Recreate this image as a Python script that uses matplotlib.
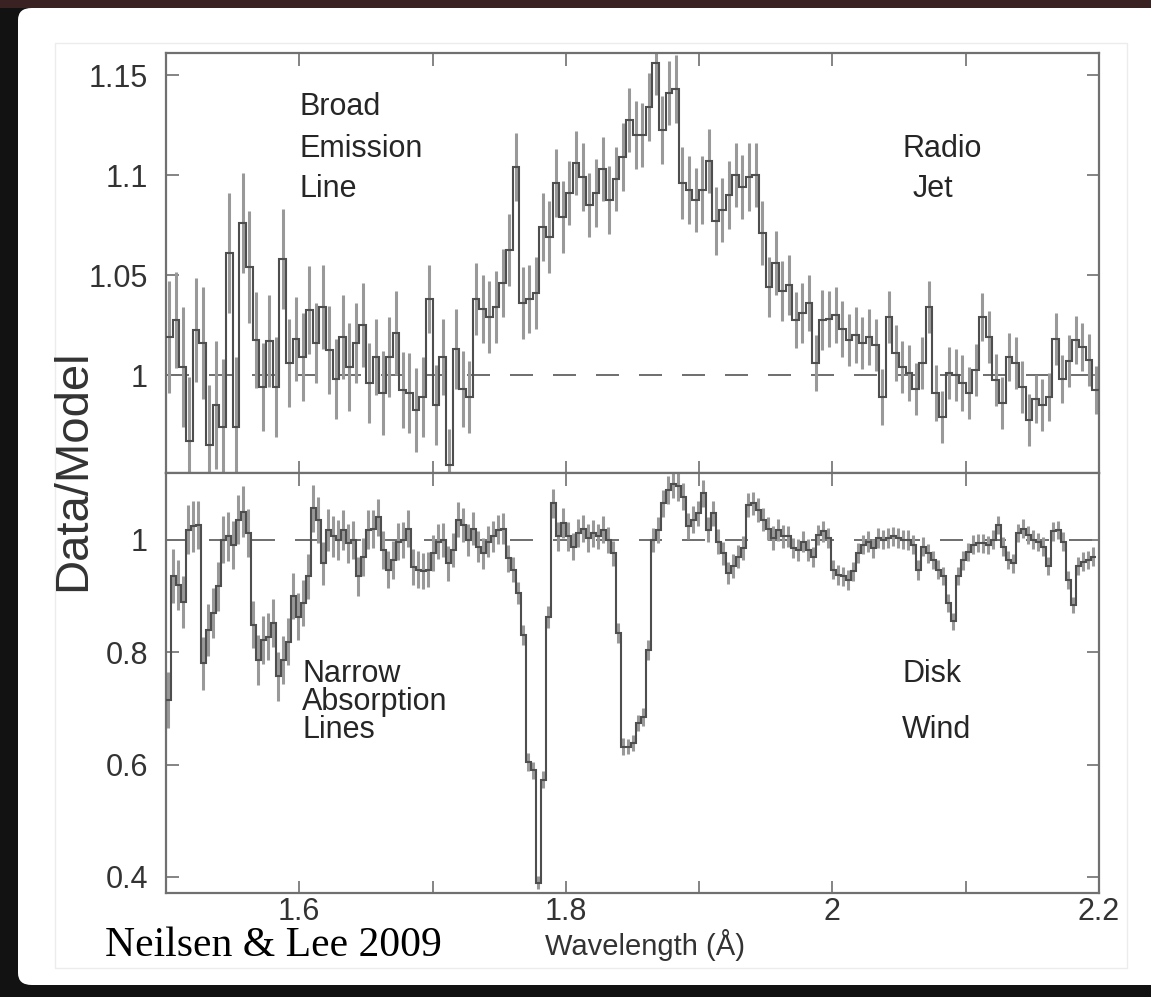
import numpy as np
import matplotlib.pyplot as plt
from matplotlib.patches import FancyBboxPatch, Rectangle

# upper panel: broad-band ratio, 0.005 A bins starting at 1.5 A
upper_ratio = [
    1.019, 1.0275, 1.004, 0.967, 1.0225, 1.016, 0.965, 0.985, 0.974, 1.061,
    0.974, 1.076, 1.054, 1.0175, 0.994, 1.017, 0.994, 1.058, 1.006, 1.018,
    1.009, 1.0325, 1.016, 1.034, 1.0125, 0.998, 1.019, 1.004, 1.016, 1.025,
    0.996, 1.009, 0.991, 1.009, 1.021, 0.9925, 0.991, 0.9825, 0.989, 1.038,
    0.985, 1.009, 0.955, 1.013, 0.993, 0.989, 1.038, 1.033, 1.029, 1.034,
    1.046, 1.0625, 1.104, 1.036, 1.038, 1.041, 1.074, 1.069, 1.096, 1.079,
    1.091, 1.106, 1.099, 1.085, 1.091, 1.103, 1.0875, 1.098, 1.109, 1.1275,
    1.12, 1.12, 1.134, 1.156, 1.1225, 1.141, 1.143, 1.096, 1.0925, 1.0875,
    1.0925, 1.107, 1.077, 1.0825, 1.09, 1.1, 1.094, 1.099, 1.1, 1.071,
    1.044, 1.056, 1.042, 1.045, 1.0275, 1.031, 1.036, 1.006, 1.0275, 1.028,
    1.03, 1.023, 1.0175, 1.02, 1.016, 1.019, 1.015, 0.989, 1.029, 1.011,
    1.004, 1.001, 0.993, 1.006, 1.034, 0.991, 0.979, 1.001, 1.0, 0.996,
    0.991, 1.0025, 1.029, 1.019, 0.9975, 0.986, 1.009, 1.006, 0.994, 0.9775,
    0.988, 0.985, 0.989, 1.018, 0.998, 1.007, 1.0175, 1.014, 1.0075, 0.9925,
]
upper_err = [
    0.028, 0.024, 0.030, 0.032, 0.026, 0.028, 0.030, 0.032, 0.034, 0.030,
    0.035, 0.025, 0.028, 0.024, 0.022, 0.023, 0.025, 0.025, 0.022, 0.021,
    0.022, 0.022, 0.020, 0.021, 0.022, 0.020, 0.021, 0.022, 0.020, 0.021,
    0.020, 0.019, 0.021, 0.020, 0.021, 0.019, 0.020, 0.021, 0.020, 0.017,
    0.020, 0.019, 0.018, 0.020, 0.019, 0.018, 0.018, 0.017, 0.018, 0.018,
    0.017, 0.018, 0.017, 0.018, 0.017, 0.018, 0.017, 0.018, 0.017, 0.018,
    0.016, 0.016, 0.017, 0.016, 0.017, 0.016, 0.017, 0.016, 0.017, 0.016,
    0.017, 0.016, 0.017, 0.016, 0.017, 0.016, 0.017, 0.018, 0.017, 0.016,
    0.017, 0.016, 0.017, 0.016, 0.017, 0.016, 0.016, 0.017, 0.016, 0.016,
    0.015, 0.016, 0.015, 0.015, 0.014, 0.015, 0.014, 0.014, 0.015, 0.014,
    0.014, 0.014, 0.013, 0.014, 0.013, 0.014, 0.013, 0.014, 0.013, 0.014,
    0.013, 0.014, 0.013, 0.013, 0.013, 0.014, 0.013, 0.013, 0.013, 0.014,
    0.013, 0.013, 0.012, 0.013, 0.013, 0.013, 0.012, 0.013, 0.013, 0.013,
    0.012, 0.013, 0.012, 0.013, 0.012, 0.013, 0.012, 0.012, 0.013, 0.012,
]

# lower panel: line-region ratio, 0.00375 A bins starting at 1.5 A
lower_ratio = [
    0.715, 0.935, 0.92, 0.89, 1.018, 1.024, 1.027, 0.78, 0.84, 0.87,
    0.917, 1.0, 1.006, 0.991, 1.036, 1.05, 1.012, 0.849, 0.786, 0.822,
    0.828, 0.852, 0.757, 0.786, 0.819, 0.9, 0.863, 0.887, 0.935, 1.056,
    1.036, 0.958, 1.018, 1.006, 1.0, 1.018, 0.994, 1.0, 0.935, 0.97,
    1.018, 1.02, 1.04, 0.982, 0.947, 0.964, 0.997, 1.0, 1.02, 0.952,
    0.947, 0.944, 0.947, 0.976, 0.997, 1.0, 0.958, 0.982, 1.036, 1.027,
    1.0, 1.02,
    0.988, 0.976, 0.997, 1.006, 1.018, 1.02, 0.967, 0.947, 0.905, 0.831,
    0.605, 0.59, 0.39, 0.573, 0.863, 1.065, 1.006, 1.03, 1.006, 0.988,
    1.012, 1.02, 1.003, 1.012, 1.006, 1.018, 1.0, 0.976, 0.834, 0.632,
    0.632, 0.638, 0.674, 0.685, 0.804, 1.0, 1.018, 1.065, 1.089, 1.1,
    1.095, 1.077, 1.024, 1.036, 1.047, 1.083, 1.018, 1.047, 0.997, 0.976,
    0.941, 0.953, 0.97, 0.985, 1.062, 1.065, 1.053, 1.036, 1.02, 1.003,
    1.018, 1.006,
    1.006, 0.985, 0.982, 0.997, 0.982, 0.97, 1.009, 1.015, 1.003, 0.947,
    0.938, 0.935, 0.929, 0.944, 0.976, 0.991, 0.997, 0.985, 1.003, 1.0,
    1.003, 1.006, 1.003, 1.0, 1.0, 0.991, 0.947, 0.988, 0.976, 0.964,
    0.947, 0.935, 0.887, 0.855, 0.935, 0.964, 0.979, 0.991, 0.994, 0.994,
    0.991, 1.0, 1.027, 0.988, 0.964, 0.958, 1.012, 1.02, 1.009, 1.0,
    0.997, 0.988, 0.953, 1.015, 1.018, 0.997, 0.929, 0.884, 0.953, 0.961,
    0.964, 0.97,
]
lower_err = [
    0.050, 0.048, 0.045, 0.046, 0.044, 0.045, 0.043, 0.047, 0.046, 0.045,
    0.044, 0.042, 0.043, 0.042, 0.044, 0.045, 0.043, 0.042, 0.044, 0.043,
    0.042, 0.043, 0.044, 0.043, 0.042, 0.041, 0.042, 0.041, 0.040, 0.042,
    0.041, 0.038, 0.037, 0.036, 0.035, 0.036, 0.035, 0.034, 0.035, 0.034,
    0.035, 0.034, 0.033, 0.034, 0.033, 0.034, 0.033, 0.032, 0.033, 0.032,
    0.033, 0.032, 0.031, 0.032, 0.031, 0.030, 0.031, 0.030, 0.031, 0.030,
    0.029, 0.030,
    0.028, 0.027, 0.028, 0.027, 0.026, 0.027, 0.024, 0.022, 0.020, 0.018,
    0.016, 0.015, 0.012, 0.015, 0.020, 0.026, 0.025, 0.026, 0.025, 0.024,
    0.025, 0.024, 0.025, 0.024, 0.023, 0.024, 0.023, 0.022, 0.018, 0.015,
    0.014, 0.014, 0.015, 0.016, 0.018, 0.022, 0.023, 0.024, 0.025, 0.026,
    0.025, 0.024, 0.023, 0.024, 0.023, 0.024, 0.022, 0.023, 0.022, 0.021,
    0.020, 0.021, 0.020, 0.021, 0.022, 0.021, 0.022, 0.021, 0.020, 0.021,
    0.020, 0.020,
    0.019, 0.018, 0.019, 0.018, 0.019, 0.018, 0.018, 0.019, 0.018, 0.017,
    0.018, 0.017, 0.018, 0.017, 0.018, 0.017, 0.018, 0.017, 0.018, 0.017,
    0.018, 0.017, 0.018, 0.017, 0.018, 0.017, 0.018, 0.017, 0.017, 0.016,
    0.017, 0.016, 0.016, 0.015, 0.016, 0.017, 0.016, 0.017, 0.016, 0.017,
    0.016, 0.017, 0.016, 0.017, 0.016, 0.017, 0.016, 0.017, 0.016, 0.017,
    0.016, 0.017, 0.016, 0.017, 0.016, 0.017, 0.016, 0.015, 0.016, 0.017,
    0.016, 0.017,
]

upper_ticks = [1.0, 1.05, 1.1, 1.15]
upper_ticklabels = ['1', '1.05', '1.1', '1.15']
lower_ticks = [0.4, 0.6, 0.8, 1.0]
lower_ticklabels = ['0.4', '0.6', '0.8', '1']
x_major = [1.6, 1.8, 2.0, 2.2]
x_major_labels = ['1.6', '1.8', '2', '2.2']
x_minor = [1.7, 1.9, 2.1]

W, H = 1151, 997
plt.rcParams['font.family'] = ['Liberation Sans', 'DejaVu Sans']

fig = plt.figure(figsize=(W / 100, H / 100), dpi=100)
fig.patch.set_facecolor('#121212')

# slide frame around the figure, kept behind the axes
fig.patches.append(Rectangle((0, 1 - 8 / H), 1, 8 / H, transform=fig.transFigure,
                             facecolor='#3a2222', edgecolor='none', zorder=-3))
fig.patches.append(FancyBboxPatch((18 / W, 12 / H), 1.05, (985 - 8) / H,
                                  boxstyle='round,pad=0,rounding_size=0.012',
                                  transform=fig.transFigure, facecolor='white',
                                  edgecolor='none', zorder=-2))
fig.patches.append(Rectangle((55 / W, 29 / H), (1127 - 55) / W, (968 - 43) / H,
                             transform=fig.transFigure, facecolor='none',
                             edgecolor='#ececec', lw=1.0, zorder=-1))

ax1 = fig.add_axes([166 / W, (H - 473) / H, 933 / W, 420 / H])
ax2 = fig.add_axes([166 / W, (H - 893) / H, 933 / W, 420 / H])

line_col = '#4e4e4e'
bar_col = '#999999'
axis_col = '#707070'


def draw_ratio(ax, ratio, err, start, width):
    ratio = np.asarray(ratio)
    edges = start + width * np.arange(len(ratio) + 1)
    centers = 0.5 * (edges[:-1] + edges[1:])
    ax.errorbar(centers, ratio, yerr=err, fmt='none', ecolor=bar_col,
                elinewidth=2.2, capsize=0, zorder=2)
    ax.stairs(ratio, edges, baseline=None, color=line_col, lw=1.5, zorder=3)
    ax.axhline(1.0, color='#555555', lw=1.2, dashes=(13.8, 12), zorder=1)


draw_ratio(ax1, upper_ratio, upper_err, 1.5, 0.005)
draw_ratio(ax2, lower_ratio, lower_err, 1.5, 0.00375)

for ax in (ax1, ax2):
    ax.set_xlim(1.5, 2.2)
    ax.set_xticks(x_major)
    ax.set_xticks(x_minor, minor=True)
    ax.tick_params(which='both', direction='in', top=True, right=True,
                   length=9, width=1.2, color=axis_col,
                   labelsize=22, labelcolor='#333333')
    ax.tick_params(axis='y', pad=13)
    for s in ax.spines.values():
        s.set_color(axis_col)
        s.set_linewidth(1.6)

ax1.set_ylim(0.951, 1.161)
ax1.set_yticks(upper_ticks)
ax1.set_yticklabels(upper_ticklabels)
ax1.tick_params(axis='x', labelbottom=False)

ax2.set_ylim(0.3715, 1.119)
ax2.set_yticks(lower_ticks)
ax2.set_yticklabels(lower_ticklabels)
ax2.set_xticklabels(x_major_labels)
ax2.tick_params(axis='x', pad=3)

for ax, words in ((ax1, [('Broad', 0.1436, 0.852), ('Emission', 0.1436, 0.752),
                         ('Line', 0.1436, 0.657), ('Radio', 0.789, 0.752),
                         ('Jet', 0.8006, 0.657)]),
                  (ax2, [('Narrow', 0.1458, 0.502), ('Absorption', 0.1458, 0.436),
                         ('Lines', 0.1458, 0.369), ('Disk', 0.789, 0.502),
                         ('Wind', 0.789, 0.369)])):
    for w, xf, yf in words:
        ax.text(xf, yf, w, fontsize=22, color='#262626', transform=ax.transAxes,
                ha='left', va='baseline')

fig.text(73 / W, (H - 470) / H, 'Data/Model', rotation=90, fontsize=34,
         color='#333333', ha='center', va='center')
fig.text(645 / W, (H - 945) / H, 'Wavelength (Å)', fontsize=21,
         color='#333333', ha='center', va='center')
fig.text(105 / W, (H - 956) / H, 'Neilsen & Lee 2009', fontsize=30,
         family=['Liberation Serif', 'DejaVu Serif'], color='black',
         ha='left', va='baseline')

fig.savefig('out.png', dpi=100, facecolor=fig.get_facecolor())
